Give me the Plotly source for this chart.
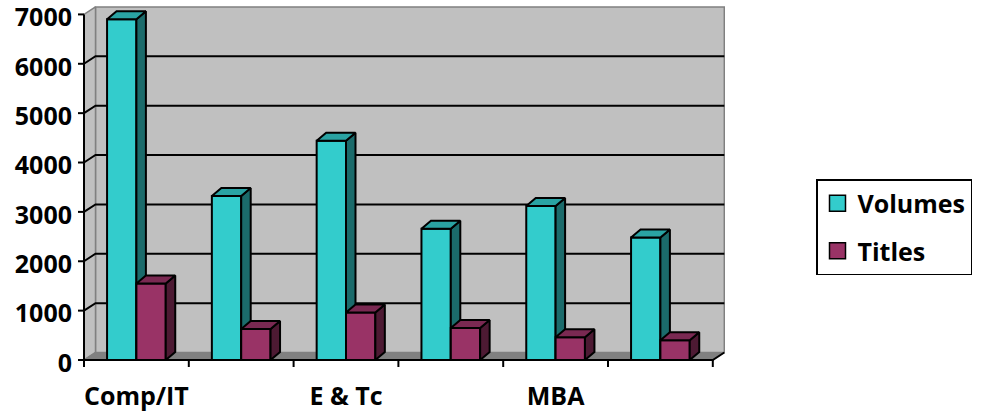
import plotly.graph_objects as go

# ---------------- data ----------------
category_labels = ["Comp/IT", "", "E & Tc", "", "MBA", ""]
volumes = [6900, 3320, 4440, 2660, 3120, 2480]
titles = [1550, 630, 960, 650, 460, 400]
y_ticks = [0, 1000, 2000, 3000, 4000, 5000, 6000, 7000]
series_names = ["Volumes", "Titles"]

# ---------------- style / geometry ----------------
W, H = 981, 414
PX_X = 104.8          # px per category
PX_Y = 0.04937        # px per value unit
ML, MR, MT, MB = 78, 256, 5, 47
plot_w = W - ML - MR
plot_h = H - MT - MB
x0 = -0.5 - 6 / PX_X
x1 = x0 + plot_w / PX_X
y_bottom = -(H - MB - 360) / PX_Y
y_top = y_bottom + plot_h / PX_Y

BAR_W = 0.28
BDX = 9.5 / PX_X
BDY = 8.0 / PX_Y
WDX = 11.5 / PX_X
WDY = 7.5 / PX_Y
TICK_X = 6 / PX_X
TICK_Y = 7 / PX_Y

FONT = dict(family="'Open Sans', Lato, sans-serif", size=25, color="black", weight="bold")
COLORS = {
    "Volumes": ("#33CCCC", "#1B6B6B", "#2AA3A3"),
    "Titles": ("#993366", "#4D1A33", "#7A2952"),
}

n = len(category_labels)
ymax = y_ticks[-1]
left = -0.5
right = n - 0.5

fig = go.Figure()


def poly(xs, ys, fill, line_color, lw=1.5):
    fig.add_trace(go.Scatter(x=xs, y=ys, mode="lines", fill="toself",
                             fillcolor=fill, line=dict(color=line_color, width=lw),
                             hoverinfo="skip", showlegend=False))


def lines(xs, ys, color, lw):
    fig.add_trace(go.Scatter(x=xs, y=ys, mode="lines",
                             line=dict(color=color, width=lw),
                             hoverinfo="skip", showlegend=False))


# back wall
poly([left + WDX, right + WDX, right + WDX, left + WDX, left + WDX],
     [WDY, WDY, ymax + WDY, ymax + WDY, WDY], "#C0C0C0", "#808080", 1.5)
# left wall
poly([left, left + WDX, left + WDX, left, left],
     [0, WDY, ymax + WDY, ymax, 0], "#C0C0C0", "#808080", 1.5)
# floor
poly([left, right, right + WDX, left + WDX, left],
     [0, 0, WDY, WDY, 0], "#808080", "#808080", 1)

# gridlines (back wall + left wall)
gx, gy = [], []
for v in y_ticks[1:-1]:
    gx += [left, left + WDX, right + WDX, None]
    gy += [v, v + WDY, v + WDY, None]
lines(gx, gy, "black", 2)

# bars
for s_idx, (name, vals) in enumerate(zip(series_names, [volumes, titles])):
    front_c, side_c, top_c = COLORS[name]
    fx, fy, sx, sy, tx, ty = [], [], [], [], [], []
    for i, v in enumerate(vals):
        a = i - BAR_W + s_idx * BAR_W
        b = a + BAR_W
        fx += [a, b, b, a, a, None]
        fy += [0, 0, v, v, 0, None]
        sx += [b, b + BDX, b + BDX, b, b, None]
        sy += [0, BDY, v + BDY, v, 0, None]
        tx += [a, a + BDX, b + BDX, b, a, None]
        ty += [v, v + BDY, v + BDY, v, v, None]
    poly(fx, fy, front_c, "black", 2)
    poly(sx, sy, side_c, "black", 2)
    poly(tx, ty, top_c, "black", 2)

# axes lines and ticks
ax_x = [left, left, None, left, right, right + WDX, None]
ax_y = [ymax, 0, None, 0, 0, WDY, None]
for v in y_ticks:
    ax_x += [left - TICK_X, left, None]
    ax_y += [v, v, None]
for k in range(n + 1):
    bx = left + k
    ax_x += [bx, bx, None]
    ax_y += [0, -TICK_Y, None]
lines(ax_x, ax_y, "black", 2)

# legend entries
for name in series_names:
    fig.add_trace(go.Scatter(x=[None], y=[None], mode="markers", name=name,
                             legendgroup=name,
                             marker=dict(symbol="square", size=16,
                                         color=COLORS[name][0],
                                         line=dict(color="black", width=1.5))))

fig.update_layout(
    width=W, height=H,
    margin=dict(l=ML, r=MR, t=MT, b=MB, autoexpand=False),
    paper_bgcolor="white", plot_bgcolor="white",
    font=FONT,
    showlegend=True,
    legend=dict(x=(816 - ML) / plot_w, y=(H - MB - 179) / plot_h,
                xanchor="left", yanchor="top",
                bordercolor="black", borderwidth=1.5, bgcolor="white",
                font=FONT, tracegroupgap=12, itemsizing="trace"),
    xaxis=dict(range=[x0, x1], showgrid=False, zeroline=False, showline=False,
               tickmode="array", tickvals=list(range(n)), ticktext=category_labels,
               ticks="", ticklabelstandoff=12, tickfont=FONT, fixedrange=True,
               ticklabeloverflow="allow"),
    yaxis=dict(range=[y_bottom, y_top], showgrid=False, zeroline=False, showline=False,
               tickmode="array", tickvals=y_ticks, ticktext=[str(t) for t in y_ticks],
               ticks="", ticklabelstandoff=5, ticklabelshift=3, tickfont=FONT,
               fixedrange=True, ticklabeloverflow="allow"),
)

fig.write_html("out.html")
